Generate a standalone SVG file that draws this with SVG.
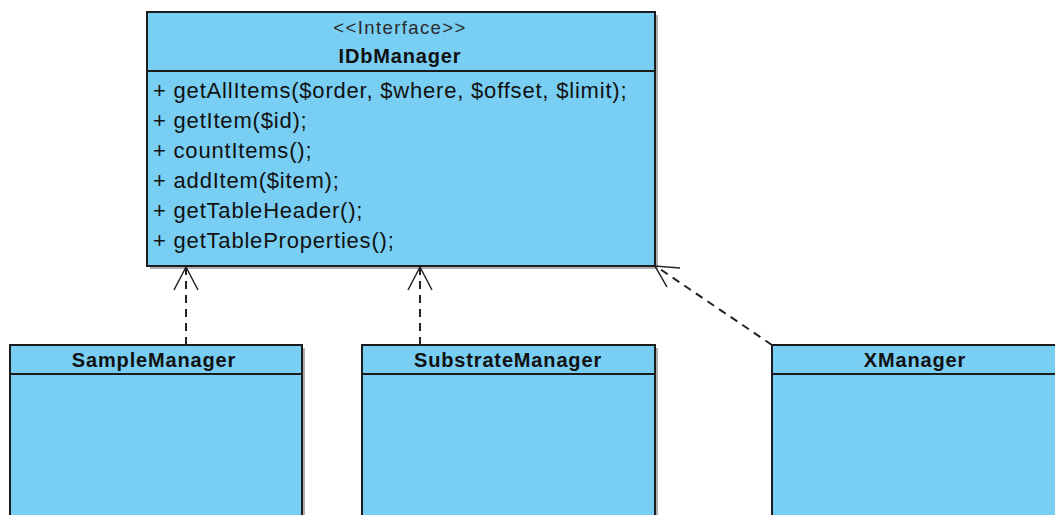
<svg xmlns="http://www.w3.org/2000/svg" width="1055" height="515" viewBox="0 0 1055 515">
  <defs>
    <style>
      .box { fill: #79cef3; stroke: #1c1c1c; stroke-width: 2; }
      .shadow { fill: #6f6f6f; opacity: 0.55; }
      .div { stroke: #1c1c1c; stroke-width: 2; }
      .stereo { font-family: "Liberation Sans", Arial, sans-serif; font-size: 18.5px; letter-spacing: 1.4px; fill: #2a2a2a; text-anchor: middle; }
      .title { font-family: "Liberation Sans", Arial, sans-serif; font-size: 20px; letter-spacing: 0.85px; font-weight: bold; fill: #111; text-anchor: middle; }
      .op { font-family: "Liberation Sans", Arial, sans-serif; font-size: 22px; letter-spacing: 0.8px; fill: #111; }
      .dep { fill: none; stroke: #222; stroke-width: 2; stroke-dasharray: 8 6; }
      .head { fill: none; stroke: #222; stroke-width: 1.5; }
    </style>
  </defs>
  <rect width="1055" height="515" fill="#ffffff"/>

  <!-- interface -->
  <g id="IDbManager">
    <rect class="shadow" x="150" y="15" width="508" height="254"/>
    <rect class="box" x="147" y="12" width="508" height="254"/>
    <line class="div" x1="147" y1="71" x2="655" y2="71"/>
    <text class="stereo" x="400" y="34">&lt;&lt;Interface&gt;&gt;</text>
    <text class="title" x="400" y="63">IDbManager</text>
    <text class="op" x="153" y="98">+ getAllItems($order, $where, $offset, $limit);</text>
    <text class="op" x="153" y="128">+ getItem($id);</text>
    <text class="op" x="153" y="158">+ countItems();</text>
    <text class="op" x="153" y="188">+ addItem($item);</text>
    <text class="op" x="153" y="218">+ getTableHeader();</text>
    <text class="op" x="153" y="248">+ getTableProperties();</text>
  </g>

  <!-- implementing classes -->
  <g id="SampleManager">
    <rect class="shadow" x="13" y="348" width="292" height="180"/>
    <rect class="box" x="10" y="345" width="292" height="180"/>
    <line class="div" x1="10" y1="374" x2="302" y2="374"/>
    <text class="title" x="154" y="367">SampleManager</text>
  </g>
  <g id="SubstrateManager">
    <rect class="shadow" x="365" y="348" width="293" height="180"/>
    <rect class="box" x="362" y="345" width="293" height="180"/>
    <line class="div" x1="362" y1="374" x2="655" y2="374"/>
    <text class="title" x="508" y="367">SubstrateManager</text>
  </g>
  <g id="XManager">
    <rect class="shadow" x="775" y="348" width="300" height="180"/>
    <rect class="box" x="772" y="345" width="300" height="180"/>
    <line class="div" x1="772" y1="374" x2="1072" y2="374"/>
    <text class="title" x="915" y="367">XManager</text>
  </g>

  <!-- realization connectors -->
  <g id="connectors">
    <line class="dep" x1="186" y1="345" x2="186" y2="268"/>
    <polyline class="head" points="174,290 186,267 198,290"/>
    <line class="dep" x1="420" y1="345" x2="420" y2="268"/>
    <polyline class="head" points="408,290 420,267 432,290"/>
    <line class="dep" x1="772" y1="345" x2="657" y2="267"/>
    <polyline class="head" points="680,268 655,266 667,287"/>
  </g>
</svg>
